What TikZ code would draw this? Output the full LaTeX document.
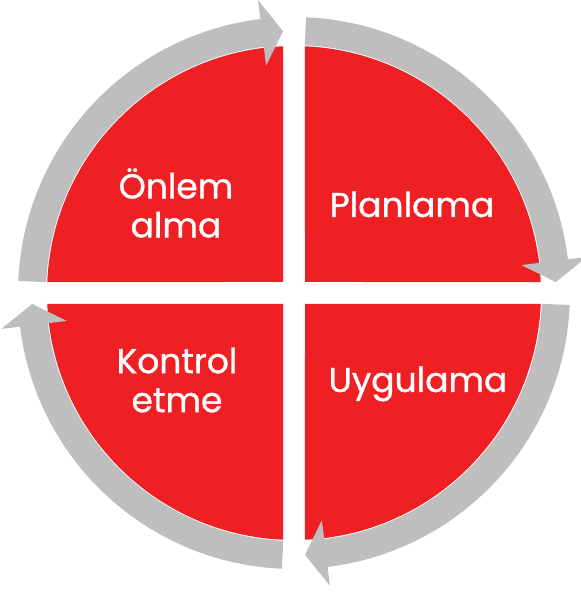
\documentclass[tikz,border=0pt]{standalone}
\usepackage{fontspec}
\newfontfamily\phasefont{Poppins}[FakeBold=0.9]
\definecolor{pukored}{RGB}{238,32,36}
\definecolor{pukogray}{RGB}{190,190,190}
\tikzset{puko/.style={x=1pt,y=1pt},
  phase/.style={text=white,align=center,font=\fontsize{34.5}{39}\phasefont}}

\begin{document}
\begin{tikzpicture}[puko]
    \def\R{247}\def\g{11}\def\a{2.55}
    \def\ri{248}\def\ro{276}\def\rm{262}\def\hw{33}
    \useasboundingbox (-294,-300) rectangle (286,293);
    \foreach \k in {0,1,2,3} {
      \fill[pukored,rotate=-90*\k] (-\g,\g) -- ({90+\a}:\R)
        arc[start angle={90+\a}, end angle={180-\a}, radius=\R] -- cycle;
      \fill[pukogray,rotate=-90*\k] (177.5:\ri)
        arc[start angle=177.5, end angle=97, radius=\ri]
        -- (97:{\rm-\hw}) -- (92.4:\rm) -- (97:{\rm+\hw}) -- (97:\ro)
        arc[start angle=97, end angle=177.5, radius=\ro] -- cycle;
    }
    \node[phase] (onlem) at (-118,90) {Önlem\\alma};
    \node[phase,anchor=base] (plan) at (118,76) {Planlama};
    \node[phase,anchor=base] (uygula) at (124,-99) {Uygulama};
    \node[phase] (kontrol) at (-117,-87) {Kontrol\\etme};
\end{tikzpicture}
\end{document}
